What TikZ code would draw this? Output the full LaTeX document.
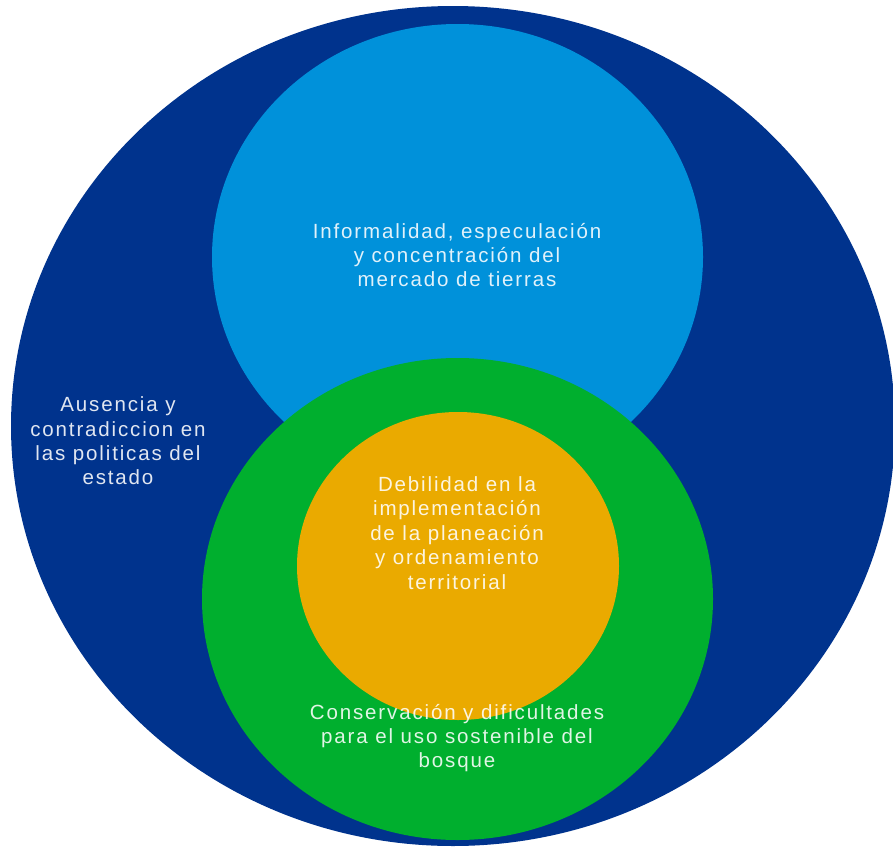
\documentclass[tikz,border=0pt]{standalone}
\usepackage{fontspec}
\newfontfamily\circlefont[LetterSpace=9]{Liberation Sans}
\usepackage{tikz}

\definecolor{darkblue}{RGB}{0,51,141}
\definecolor{midblue}{RGB}{0,145,218}
\definecolor{leafgreen}{RGB}{0,175,46}
\definecolor{ochre}{RGB}{234,170,0}

\tikzset{
	circletext/.style={align=center, text=white, text opacity=0.88,
		font=\circlefont\fontsize{20.6}{24.5}\selectfont, inner sep=0pt}
}

\begin{document}
\begin{tikzpicture}[x=1bp, y=-1bp]
	\useasboundingbox (0,0) rectangle (893,847);
	\clip (0,0) rectangle (893,847);
	
	% outer ellipse (estado)
	\fill [color=darkblue] (453,426) ellipse [x radius=442, y radius=420];
	
	% mercado de tierras
	\fill [color=midblue] (457.5,257) ellipse [x radius=245.5, y radius=233];
	
	% bosque
	\fill [color=leafgreen] (457.5,599) ellipse [x radius=255.5, y radius=241];
	
	% planeacion
	\fill [color=ochre] (458,566) ellipse [x radius=161, y radius=154];
	
	% labels
	\node[circletext] (tierras) at (457,255) {Informalidad, especulación\\y concentración del\\mercado de tierras};
	\node[circletext] (estado) at (118,441) {Ausencia y\\contradiccion en\\las politicas del\\estado};
	\node[circletext] (planeacion) at (457,533) {Debilidad en la\\implementación\\de la planeación\\y ordenamiento\\territorial};
	\node[circletext] (bosque) at (457,738) {Conservación y dificultades\\para el uso sostenible del\\bosque};
	
\end{tikzpicture}
\end{document}
